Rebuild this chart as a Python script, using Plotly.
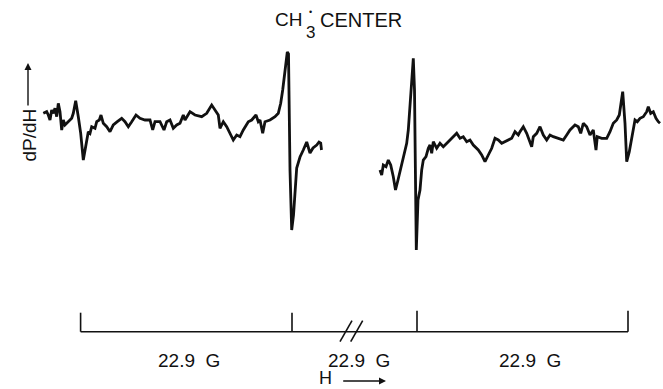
import plotly.graph_objects as go

# ---- data (x: chart position units along H, y: dP/dH signal, arbitrary units) ----
left_x = [43.3, 46.7, 48.3, 50, 51.7, 53.3, 55, 56.7, 58.3, 60, 61.7, 63.3, 65, 68.3, 71.7, 73.3,
          75.7, 78.3, 80.7, 83.3, 86, 88.3, 90, 91.7, 95, 96.7, 99.3, 101, 103.3, 106.7, 110, 113.3,
          117.3, 121.7, 125, 128.3, 131.7, 136, 140, 145, 150, 152.7, 155, 160, 164, 166.7, 170,
          173.3, 176.7, 180, 183.3, 185, 190, 195, 201.7, 206.7, 211.7, 215, 218.3, 220, 223.3,
          226.7, 230, 233.3, 236.7, 240, 243.3, 248.3, 251.7, 256, 258.3, 260, 262.7, 265, 270,
          275, 278.3, 280.7, 282.7, 284, 286, 287.3, 288.5, 290, 291.7, 293.5, 296.7, 300, 303.3,
          306.7, 310, 313, 316.7, 319, 320.7, 321.5]
left_y = [86.7, 88.3, 85, 80, 90, 86.7, 91.7, 83.3, 96.7, 88.3, 70, 80, 75, 78.3, 81.7, 86.7,
          99.3, 83.3, 66.7, 40, 55, 68.3, 66.7, 73.3, 71.7, 78.3, 80, 85, 76.7, 73.3, 68.3, 75,
          78.3, 81.7, 78.3, 73.3, 78.3, 85, 81.7, 80, 80, 70, 78.3, 78.3, 70, 78.3, 80,
          71.7, 75, 76.7, 85, 80, 88.3, 85, 83.3, 86.7, 95, 90, 85, 71.7, 78.3,
          73.3, 66.7, 60, 65, 63.3, 70, 78.3, 80, 85, 78.3, 80, 66.7, 78.3, 80,
          83.3, 86.7, 96.7, 110, 120, 138, 148, 146, 30, -30, -15, 32, 43, 50,
          58, 47, 52, 55, 58, 57, 50]

right_x = [380, 381.7, 383.3, 386, 388.3, 390.7, 393.3, 395.5, 398, 400, 403.3, 406.7, 408.3, 410,
           411.8, 413.3, 414.5, 415.5, 416.3, 418, 420, 421.7, 423.3, 426, 428.3, 430, 431.7,
           433.3, 436.7, 440, 443.3, 448.3, 453.3, 456.7, 460, 463.3, 466.7, 470, 473.3, 478.3,
           481.7, 485, 488.3, 491.7, 495, 498.3, 501.7, 505, 508.3, 511.7, 515, 518.3, 520,
           523.3, 526.7, 530, 531.7, 533.3, 536.7, 540, 543.3, 546.7, 550, 553.3, 558.3, 563.3,
           566.7, 570, 575, 578.3, 580.7, 583.3, 586.7, 590, 593.3, 596, 597.3, 601.7, 606.7,
           610, 613.3, 616.7, 619.3, 621, 622.7, 625, 626.7, 629.3, 632.7, 635, 637.3, 640,
           643.3, 646.7, 648.3, 650.7, 653.3, 656, 658.3, 660]
right_y = [30, 25, 35, 33.3, 40, 35, 23.3, 10, 20, 28.3, 43.3, 56.7, 70, 90,
           120, 141.7, 110, 20, -50, 0, 10, 30, 40, 43.3, 51.7, 55, 46.7,
           58.3, 51.7, 56.7, 53.3, 58.3, 63.3, 66.7, 61.7, 63.3, 58.3, 60, 55, 50,
           45, 38.3, 45, 51.7, 61.7, 60, 56.7, 58.3, 60, 61.7, 68.3, 65, 68.3,
           73.3, 66.7, 58.3, 53.3, 63.3, 66.7, 73.3, 65, 60, 65, 63.3, 61.7, 60,
           65, 70, 75, 73.3, 66.7, 76.7, 73.3, 65, 70, 50, 63.3, 61.7, 61.7,
           68.3, 76.7, 80, 85, 95, 108.3, 76.7, 38.3, 48.3, 66.7, 80, 78.3, 81.7,
           83.3, 88.3, 93.3, 86.7, 88.3, 81.7, 78.3, 76.7]

# scale bar: line positions (22.9 G spacing, break between 2nd and 3rd)
tick_x = [80.6, 292, 417, 628]
tick_top = [-112.7, -112.7, -110.7, -110.7]
bar_y = -131.7
span_labels = ["22.9\u00a0 G", "22.9\u00a0 G", "22.9\u00a0 G"]
span_label_x = [189, 359, 529.5]
break_x = [340, 350.7]

BASE = 200  # signal value at the top edge of the picture

INK = "#111111"
fig = go.Figure()

fig.add_trace(go.Scatter(x=left_x, y=left_y, mode="lines",
                         line=dict(color=INK, width=2.8), hoverinfo="skip"))
fig.add_trace(go.Scatter(x=right_x, y=right_y, mode="lines",
                         line=dict(color=INK, width=2.8), hoverinfo="skip"))

# scale bar baseline and ticks
fig.add_trace(go.Scatter(x=[tick_x[0], tick_x[-1]], y=[bar_y, bar_y], mode="lines",
                         line=dict(color=INK, width=1.6), hoverinfo="skip"))
for tx, tt in zip(tick_x, tick_top):
    fig.add_trace(go.Scatter(x=[tx, tx], y=[bar_y, tt], mode="lines",
                             line=dict(color=INK, width=1.6), hoverinfo="skip"))

# break marks "//"
for x0 in break_x:
    fig.add_shape(type="line", x0=x0, y0=bar_y - 10, x1=x0 + 12, y1=bar_y + 11,
                  line=dict(color=INK, width=1.6))

font = "Liberation Sans, Arial, sans-serif"
ann = []
for lx, lt in zip(span_label_x, span_labels):
    ann.append(dict(x=lx, y=BASE - 360, text=lt, showarrow=False,
                    font=dict(family=font, size=19, color=INK)))
# H arrow
ann.append(dict(x=325, y=BASE - 389, yanchor="bottom", text="H", showarrow=False,
                borderpad=0, font=dict(family=font, size=18, color=INK)))
ann.append(dict(x=386, y=BASE - 381, ax=341.7, ay=BASE - 381, axref="x", ayref="y",
                xref="x", yref="y", text="", showarrow=True, arrowhead=2, arrowsize=1,
                arrowwidth=1.4, arrowcolor=INK))
# y label
ann.append(dict(x=28.5, y=BASE - 135, text="dP/dH", textangle=-90, showarrow=False,
                font=dict(family=font, size=19, color=INK)))
ann.append(dict(x=28, y=BASE - 63, ax=28, ay=BASE - 107, axref="x", ayref="y",
                xref="x", yref="y", text="", showarrow=True, arrowhead=2, arrowsize=1,
                arrowwidth=1.4, arrowcolor=INK))
# title
ann.append(dict(x=304, y=BASE - 19.5, text="CH", xanchor="right", showarrow=False,
                font=dict(family=font, size=19, color=INK)))
ann.append(dict(x=310, y=BASE - 32, text="3", showarrow=False,
                font=dict(family=font, size=17, color=INK)))
ann.append(dict(x=310, y=BASE - 12, text="•", showarrow=False,
                font=dict(family=font, size=9, color=INK)))
ann.append(dict(x=318, y=BASE - 19.5, text="CENTER", xanchor="left",
                showarrow=False, font=dict(family=font, size=20, color=INK)))

fig.update_layout(
    width=663, height=389, margin=dict(l=0, r=0, t=0, b=0),
    paper_bgcolor="white", plot_bgcolor="white", showlegend=False,
    xaxis=dict(range=[0, 663], visible=False, fixedrange=True),
    yaxis=dict(range=[BASE - 389, BASE], visible=False, fixedrange=True),
    annotations=ann,
)

fig.write_html("out.html")
